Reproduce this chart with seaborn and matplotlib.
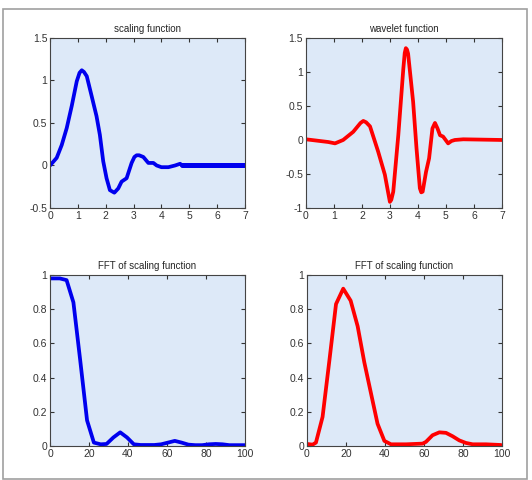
import numpy as np
import pandas as pd
import matplotlib
matplotlib.use('Agg')
import matplotlib.pyplot as plt
from matplotlib.ticker import FormatStrFormatter
from matplotlib.patches import Rectangle
import seaborn as sns

# ---------------------------------------------------------------- data
phi_x = [0, 0.24, 0.42, 0.6, 0.78, 0.96, 1.06, 1.14, 1.22, 1.32, 1.5, 1.67, 1.79, 1.91, 2.03, 2.15,
         2.31, 2.45, 2.57, 2.75, 2.93, 3.03, 3.11, 3.2, 3.35, 3.53, 3.71, 3.83, 4.0, 4.25, 4.49,
         4.67, 4.75]
phi_y = [0, 0.09, 0.24, 0.44, 0.70, 0.99, 1.09, 1.12, 1.10, 1.05, 0.81, 0.58, 0.36, 0.05, -0.15, -0.29,
         -0.32, -0.27, -0.19, -0.15, 0.03, 0.10, 0.12, 0.12, 0.10, 0.03, 0.03, 0.0, -0.02, -0.02, 0.0,
         0.02, 0.0]
phi_tail_x = [4.75, 7]
phi_tail_y = [0, 0]

psi_x = [0, 0.5, 0.8, 1.04, 1.33, 1.69, 1.95, 2.05, 2.15, 2.29, 2.58, 2.82, 2.95, 3.0, 3.05, 3.12,
         3.3, 3.48, 3.53, 3.57, 3.61, 3.65, 3.83, 3.95, 4.07, 4.12, 4.17, 4.29, 4.4, 4.52, 4.61,
         4.7, 4.79, 4.9, 5.08, 5.2, 5.32, 5.62, 7.0]
psi_y = [0.01, -0.015, -0.03, -0.05, 0.0, 0.12, 0.25, 0.28, 0.26, 0.20, -0.17, -0.51, -0.80, -0.91,
         -0.88, -0.76, 0.07, 1.05, 1.28, 1.35, 1.33, 1.27, 0.56, -0.12, -0.71, -0.77, -0.76, -0.47,
         -0.27, 0.17, 0.25, 0.17, 0.07, 0.05, -0.05, -0.015, 0.0, 0.01, 0.0]

fft_phi_x = [0, 5, 8.5, 12, 15.5, 19, 22.5, 26, 29, 32.5, 36, 39.5, 43, 46.5, 50, 53.5, 57,
             60.5, 64, 67.5, 71, 74.5, 78, 81.5, 85, 88.5, 92, 95.5, 100]
fft_phi_y = [0.98, 0.98, 0.97, 0.84, 0.50, 0.15, 0.02, 0.01, 0.012, 0.05, 0.08, 0.05, 0.01, 0.006,
             0.006, 0.006, 0.01, 0.02, 0.03, 0.02, 0.008, 0.005, 0.005, 0.01, 0.012, 0.01, 0.005,
             0.005, 0.005]

fft_psi_x = [0, 2.9, 4.6, 8, 11.5, 14.9, 18.6, 22.4, 26, 29.4, 32.8, 36.2, 39.7, 43.1, 50.8,
             59.3, 61, 64.4, 67.9, 71.3, 74.7, 78.1, 81.5, 85, 91.8, 99.5]
fft_psi_y = [0.012, 0.008, 0.02, 0.17, 0.50, 0.83, 0.92, 0.85, 0.70, 0.49, 0.31, 0.13, 0.03, 0.01,
             0.01, 0.014, 0.024, 0.063, 0.08, 0.077, 0.057, 0.033, 0.018, 0.01, 0.01, 0.006]

# ---------------------------------------------------------------- style
sns.set_style('ticks')
plt.rcParams['font.family'] = ['Liberation Sans', 'DejaVu Sans']
plt.rcParams['font.size'] = 7.5
plt.rcParams['lines.solid_joinstyle'] = 'round'
plt.rcParams['lines.solid_capstyle'] = 'round'

BG = '#dde9f8'
BLUE = '#0000ee'
RED = '#ff0000'

fig = plt.figure(figsize=(5.32, 4.8), dpi=100)
fig.patches.append(Rectangle((3 / 532, 0.002), 524 / 532, 1 - 9 / 480 - 0.002,
                             transform=fig.transFigure, fill=False,
                             edgecolor='#a0a0a0', linewidth=1.2))

ax1 = fig.add_axes([0.094, 0.5667, 0.3665, 0.3542])
ax2 = fig.add_axes([0.575, 0.5667, 0.3684, 0.3542])
ax3 = fig.add_axes([0.094, 0.0708, 0.3665, 0.3563])
ax4 = fig.add_axes([0.577, 0.0708, 0.3665, 0.3563])

sns.lineplot(x=phi_x, y=phi_y, ax=ax1, color=BLUE, linewidth=2.7, estimator=None, sort=False)
sns.lineplot(x=phi_tail_x, y=phi_tail_y, ax=ax1, color=BLUE, linewidth=3.6, estimator=None)
sns.lineplot(x=psi_x, y=psi_y, ax=ax2, color=RED, linewidth=2.7, estimator=None, sort=False)
sns.lineplot(x=fft_phi_x, y=fft_phi_y, ax=ax3, color=BLUE, linewidth=2.7, estimator=None)
sns.lineplot(x=fft_psi_x, y=fft_psi_y, ax=ax4, color=RED, linewidth=2.7, estimator=None)

ax1.set_xlim(0, 7)
ax1.set_ylim(-0.5, 1.5)
ax1.set_yticks([-0.5, 0, 0.5, 1, 1.5])
ax1.set_title('scaling function', fontsize=7, pad=4)

ax2.set_xlim(0, 7)
ax2.set_ylim(-1, 1.5)
ax2.set_yticks([-1, -0.5, 0, 0.5, 1, 1.5])
ax2.set_title('wavelet function', fontsize=7, pad=4)

for ax in (ax1, ax2):
    ax.set_xticks(range(0, 8))

for ax in (ax3, ax4):
    ax.set_xlim(0, 100)
    ax.set_ylim(0, 1)
    ax.set_xticks([0, 20, 40, 60, 80, 100])
    ax.set_yticks([0, 0.2, 0.4, 0.6, 0.8, 1])
    ax.set_title('FFT of scaling function', fontsize=7, pad=4)

for ax in (ax1, ax2, ax3, ax4):
    ax.set_facecolor(BG)
    ax.xaxis.set_major_formatter(FormatStrFormatter('%g'))
    ax.yaxis.set_major_formatter(FormatStrFormatter('%g'))
    ax.tick_params(direction='in', top=True, right=True, length=3, width=0.8,
                   labelsize=7.5, colors='#333333', pad=2)
    for s in ax.spines.values():
        s.set_visible(True)
        s.set_color('#444444')
        s.set_linewidth(0.8)

plt.savefig('out.png', dpi=100)
